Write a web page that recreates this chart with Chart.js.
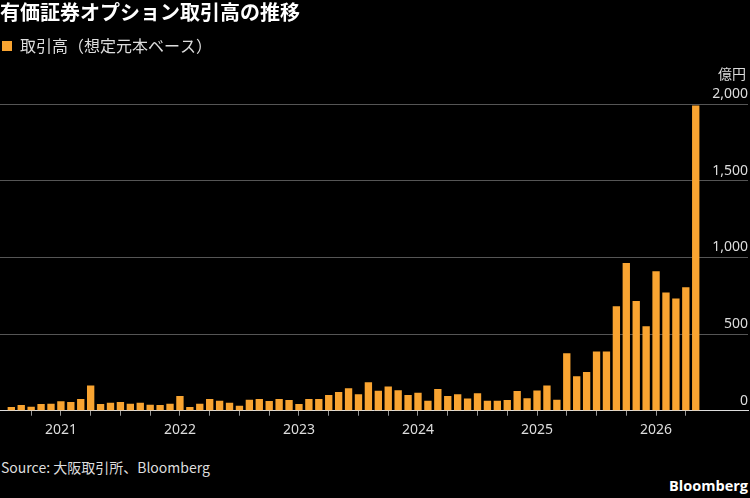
<!DOCTYPE html>
<html lang="ja">
<head>
<meta charset="utf-8">
<script src="https://cdn.jsdelivr.net/npm/chart.js@4.4.1/dist/chart.umd.min.js"></script>
<style>
  body { margin: 0; background: #000; width: 750px; height: 498px; overflow: hidden; font-family: 'Noto Sans CJK JP', 'Noto Sans', sans-serif; }
  #wrap { position: absolute; left: 0; top: 0; width: 750px; height: 450px; }
  #unit { position: absolute; right: 4px; top: 63px; color: #ddd; font-size: 14px; }
  #source { position: absolute; left: 1px; top: 457px; color: #ddd; font-size: 14px; }
  #brand { position: absolute; right: 2px; top: 476px; color: #fff; font-size: 14.5px; font-weight: bold; font-family: 'Open Sans', sans-serif; }
</style>
</head>
<body>
<div id="wrap"><canvas id="chart"></canvas></div>
<div id="unit">億円</div>
<div id="source">Source: 大阪取引所、Bloomberg</div>
<div id="brand">Bloomberg</div>
<script>
// monthly notional volume, Aug 2020 - May 2026 (100m yen)
const startYear = 2020;
const startMonth = 8;
const values = [
    24, 37, 26, 43, 46,
    61, 56, 76, 165, 43, 52, 56, 46, 52, 39, 37, 46,
    96, 24, 46, 76, 65, 52, 33, 72, 76, 63, 76, 70,
    43, 76, 76, 102, 122, 146, 107, 185, 130, 157, 133, 102,
    117, 65, 141, 96, 107, 80, 113, 65, 65, 69, 128, 82,
    132, 165, 72, 375, 224, 252, 386, 386, 681, 963, 716, 551,
    909, 770, 731, 805, 1990
];
const yearLabels = ['2021', '2022', '2023', '2024', '2025', '2026'];
const yTicks = [0, 500, 1000, 1500, 2000];

const months = values.map((v, i) => {
    const m = startMonth - 1 + i;
    return { year: startYear + Math.floor(m / 12), month: (m % 12) + 1 };
});
const quarterIdx = months.map((m, i) => [1, 4, 7, 10].includes(m.month) ? i : -1).filter(i => i >= 0);

// push the plot down below the legend
const legendGap = {
    id: 'legendGap',
    beforeInit(chart) {
        const fit = chart.legend.fit;
        chart.legend.fit = function () {
            fit.bind(chart.legend)();
            this.height += 40;
        };
    }
};

const ctx = document.getElementById('chart').getContext('2d');
new Chart(ctx, {
    type: 'bar',
    data: {
        datasets: [{
            label: '取引高（想定元本ベース）',
            data: values.map((v, i) => ({ x: i, y: v })),
            backgroundColor: '#f9a431',
            borderWidth: 0,
            barPercentage: 0.74,
            categoryPercentage: 1
        }]
    },
    options: {
        responsive: true,
        maintainAspectRatio: false,
        animation: false,
        layout: { padding: { top: 0, right: 2, left: 0, bottom: 5.5 } },
        scales: {
            x: {
                type: 'linear',
                offset: false,
                min: -1.14,
                max: 74.27,
                afterBuildTicks: axis => { axis.ticks = quarterIdx.map(v => ({ value: v })); },
                grid: { offset: false, drawOnChartArea: false, color: '#999', tickLength: 5 },
                border: { color: '#ddd' },
                ticks: {
                    autoSkip: false,
                    maxRotation: 0,
                    color: '#ddd',
                    padding: 6,
                    font: { size: 14, family: "'Noto Sans', sans-serif" },
                    callback: v => {
                        const m = months[v];
                        if (!m || m.month !== 1) return '';
                        return yearLabels[yearLabels.indexOf(String(m.year))] || '';
                    }
                }
            },
            y: {
                position: 'right',
                min: 0,
                max: 2000,
                afterBuildTicks: axis => { axis.ticks = yTicks.map(v => ({ value: v })); },
                grid: { color: '#555', drawTicks: false },
                border: { display: false },
                ticks: {
                    mirror: true,
                    labelOffset: -10,
                    padding: 0,
                    color: '#ddd',
                    font: { size: 14, family: "'Noto Sans', sans-serif" },
                    callback: v => v.toLocaleString('en-US')
                }
            }
        },
        plugins: {
            title: {
                display: true,
                text: '有価証券オプション取引高の推移',
                align: 'start',
                color: '#fff',
                font: { size: 20, weight: 'bold', family: "'Noto Sans CJK JP'" },
                padding: { top: 0, bottom: 12 }
            },
            legend: {
                align: 'start',
                labels: {
                    boxWidth: 10,
                    boxHeight: 10,
                    color: '#ddd',
                    font: { size: 16, family: "'Noto Sans CJK JP'" },
                    padding: 2
                }
            },
            tooltip: { enabled: false }
        }
    },
    plugins: [legendGap]
});
</script>
</body>
</html>
